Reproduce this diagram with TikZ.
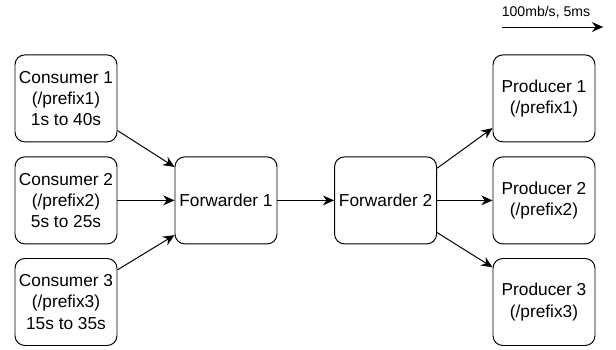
\documentclass[tikz,border=0pt]{standalone}
\usepackage{fontspec}
\setmainfont{Liberation Sans}
\usepackage{tikz}
\usetikzlibrary{arrows.meta,positioning,calc}
\definecolor{ink}{HTML}{000000}
\tikzset{hop/.style={draw=ink,rounded corners=7pt,line width=0.7pt,minimum width=2.55cm,
    minimum height=2.175cm,align=center,inner sep=1pt,font=\fontsize{12.3}{15}\selectfont},
  link/.style={draw=ink,line width=0.7pt,-{Stealth[length=8pt,width=7pt]}}}
\begin{document}
\begin{tikzpicture}
\useasboundingbox (0,0) rectangle (15.4,8.75);
% consumers on the left
\node[hop] (c1) at (1.65,6.29) {Consumer 1\\(/prefix1)\\1s to 40s};
\node[hop] (c2) at (1.65,3.74) {Consumer 2\\(/prefix2)\\5s to 25s};
\node[hop] (c3) at (1.65,1.2) {Consumer 3\\(/prefix3)\\15s to 35s};
% the two forwarders
\node[hop] (f1) at (5.65,3.74) {Forwarder 1};
\node[hop] (f2) at (9.64,3.74) {Forwarder 2};
% producers on the right
\node[hop] (p1) at (13.6,6.29) {Producer 1\\(/prefix1)};
\node[hop] (p2) at (13.6,3.74) {Producer 2\\(/prefix2)};
\node[hop] (p3) at (13.6,1.2) {Producer 3\\(/prefix3)};
\draw[link] (c1.-32) -- (f1.147);
\draw[link] (c2) -- (f1);
\draw[link] (c3.32) -- (f1.214);
\draw[link] (f1) -- (f2);
\draw[link] (f2.32) -- (p1.210);
\draw[link] (f2) -- (p2);
\draw[link] (f2.-32) -- (p3.146);
% link legend
\node[font=\fontsize{10}{12}\selectfont] (lg) at (13.65,8.43) {100mb/s, 5ms};
\coordinate (la) at (12.55,8.075);
\coordinate (lb) at (15.08,8.075);
\draw[link] (la) -- (lb);
\end{tikzpicture}
\end{document}
